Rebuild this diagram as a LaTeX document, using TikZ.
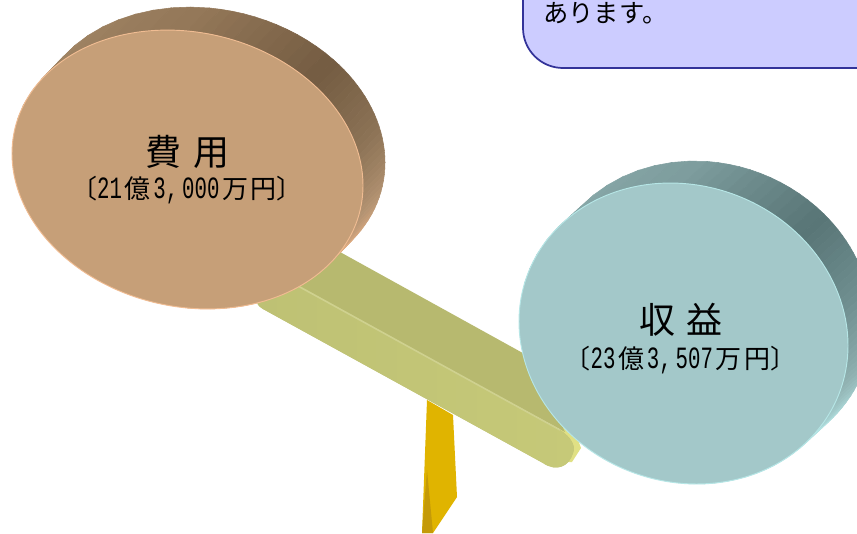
\documentclass[tikz,border=0pt]{standalone}
\usepackage{fontspec}
\newfontfamily\jp{Noto Sans CJK JP}
\newfontfamily\hw[FakeStretch=0.67]{Liberation Mono}
\definecolor{brA}{HTML}{A68A69}\definecolor{brB}{HTML}{937758}\definecolor{brC}{HTML}{745C42}
\definecolor{brD}{HTML}{8C7356}\definecolor{brE}{HTML}{B59473}\definecolor{brF}{HTML}{EDB486}
\definecolor{tlA}{HTML}{8FB0B0}\definecolor{tlB}{HTML}{7D9C9D}\definecolor{tlC}{HTML}{587576}
\definecolor{tlD}{HTML}{6F8E8F}\definecolor{tlE}{HTML}{8FB0B0}\definecolor{tlF}{HTML}{B4E4E4}
\definecolor{brFace}{HTML}{C69F78}\definecolor{brEdge}{HTML}{F0BC92}
\definecolor{tlFace}{HTML}{A3C8C9}\definecolor{tlEdge}{HTML}{B6E6E6}
\definecolor{beamT}{HTML}{B7B96F}\definecolor{beamL}{HTML}{BEC174}\definecolor{beamR}{HTML}{C6C978}
\definecolor{beamE}{HTML}{E0E084}\definecolor{ridge}{HTML}{CFD18F}
\definecolor{postA}{HTML}{E0B400}\definecolor{postB}{HTML}{C49A08}
\definecolor{noteFill}{HTML}{CCCCFF}\definecolor{noteLine}{HTML}{333399}
\newcommand{\dg}[1]{{\hw\fontsize{23.2pt}{24pt}\selectfont #1}}
\newcommand{\gp}{\hspace{2pt}}
\tikzset{
  x=0.75pt,y=-0.75pt,
  big/.style={font=\jp\fontsize{27pt}{30pt}\selectfont,text=black,inner sep=0pt},
  small/.style={font=\jp\fontsize{19.5pt}{22pt}\selectfont,text=black,inner sep=0pt},
}
\newcommand{\discside}[8]{%
  \foreach \ts/\te/\ca/\cb in {195/270/A/B,270/315/B/C,315/345/C/D,345/375/D/E,375/405/E/F,405/450/F/F}{%
    \foreach \k in {0,...,11}{%
      \pgfmathsetmacro\ta{\ts+(\te-\ts)*\k/12}%
      \pgfmathsetmacro\tb{\ts+(\te-\ts)*(\k+1)/12}%
      \pgfmathsetmacro\mx{100*(\k+0.5)/12}%
      \colorlet{segcol}{#8\cb!\mx!#8\ca}%
      \fill[segcol,draw=segcol,line width=0.4pt]
        ({#1+#3*cos(\ta)},{#2+#4*cos(\ta)+#5*sin(\ta)}) --
        ({#1+#6+#3*cos(\ta)},{#2+#7+#4*cos(\ta)+#5*sin(\ta)}) --
        ({#1+#6+#3*cos(\tb)},{#2+#7+#4*cos(\tb)+#5*sin(\tb)}) --
        ({#1+#3*cos(\tb)},{#2+#4*cos(\tb)+#5*sin(\tb)}) -- cycle;
    }%
  }%
}
\newcommand{\discface}[7]{%
  \fill[#6,draw=#7,line width=0.7pt] plot[domain=0:360,samples=140,smooth]
    ({#1+#3*cos(\x)},{#2+#4*cos(\x)+#5*sin(\x)}) -- cycle;
}
\begin{document}
\begin{tikzpicture}
\useasboundingbox (0,0) rectangle (857,533);
\clip (0,0) rectangle (857,533);
\fill[white] (0,0) rectangle (857,533);
% callout
\draw[fill=noteFill,draw=noteLine,line width=1.3pt]
  (523,-20) -- (523,28) arc[start angle=180,end angle=90,radius=40] -- (880,68) -- (880,-20) -- cycle;
\node[anchor=west,inner sep=0pt,font=\jp\fontsize{19pt}{22pt}\selectfont] (note) at (543,13) {あります。};
% post
\fill[postA] (427,400) -- (453,415) -- (457,497) -- (433,533) -- (422,533) -- cycle;
\fill[postB] (427,470) -- (433,533) -- (422,533) -- cycle;
% beam
\fill[beamE] (560,425) -- (578,440) -- (581,448) -- (572,462) -- (556,462) -- cycle;
\fill[beamT] (340,252) -- (530,357) -- (565,432) -- (295,285) -- cycle;
\fill[beamL,left color=beamL,right color=beamR] (298,285) -- (560,430)
  .. controls (571,437) and (576,446) .. (573,453)
  .. controls (569,467) and (556,472) .. (543,463)
  -- (263,309) .. controls (258,306) and (256,303) .. (258,300) -- cycle;
\draw[ridge,line width=1.2pt] (298,286) -- (560,430);
% left disc
\discside{187.5}{169.5}{175.5}{16}{138.5}{22}{-23}{br}
\discface{187.5}{169.5}{175.5}{16}{138.5}{brFace}{brEdge}
\node[big] (costT) at (187.5,152) {費\hspace{0.33em}用};
\node[small] (costV) at (187,190) {〔\dg{21}\gp 億\gp\dg{3,\hspace{3pt}000}\gp 万\gp 円〕};
% right disc
\discside{683.5}{333.5}{164.5}{12}{150}{24}{-22}{tl}
\discface{683.5}{333.5}{164.5}{12}{150}{tlFace}{tlEdge}
\node[big] (revT) at (681,320) {収\hspace{0.33em}益};
\node[small] (revV) at (680.5,360) {〔\dg{23}\gp 億\gp\dg{3,\hspace{3pt}507}\gp 万\gp 円〕};
\end{tikzpicture}
\end{document}
